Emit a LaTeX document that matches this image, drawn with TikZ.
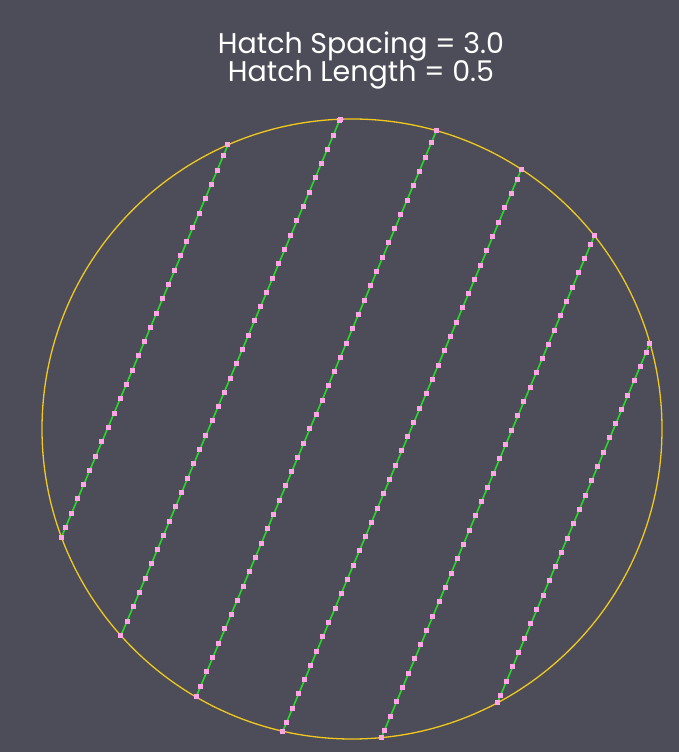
\documentclass[tikz,border=0pt]{standalone}
\usepackage{fontspec}
\setmainfont{Poppins}
\usetikzlibrary{calc}
\definecolor{bgGray}{RGB}{77,77,89}
\definecolor{rimGold}{RGB}{240,200,30}
\definecolor{hatchGreen}{RGB}{40,215,40}
\definecolor{markPink}{RGB}{255,165,230}
\tikzset{
  rim line/.style={draw=rimGold,line width=1.3pt},
  hatch line/.style={draw=hatchGreen,line width=1.6pt},
  hatch mark/.style={rectangle,fill=markPink,minimum size=5pt,inner sep=0pt},
  title text/.style={text=white,font=\fontsize{28.5}{28.5}\selectfont,anchor=base}
}
\newcommand{\hatchgap}{93.2}
\newcommand{\marksep}{15.53}

\begin{document}
\begin{tikzpicture}[x=1pt,y=1pt]
  \fill[bgGray] (0,0) rectangle (679,752);
  \useasboundingbox (0,0) rectangle (679,752);
  \node[title text] (spacing) at (361,698) {Hatch Spacing = 3.0};
  \node[title text] (length) at (361,670) {Hatch Length = 0.5};
  \coordinate (ctr) at (352,323);
  \draw[rim line] (ctr) circle[radius=310pt];
  % one hatch per offset, cut by the circle
  \foreach \k in {-2,...,3}{
    \pgfmathsetmacro{\off}{-38.8+\hatchgap*\k}
    \pgfmathsetmacro{\half}{310*sqrt(1-(\off/310)^2)}
    \coordinate (lo\k) at ($(ctr)+(-23:\off pt)+(67:-\half pt)$);
    \coordinate (hi\k) at ($(ctr)+(-23:\off pt)+(67:\half pt)$);
    \draw[hatch line] (lo\k) -- (hi\k);
    \pgfmathtruncatemacro{\mlo}{ceil((-\half-14.8)/\marksep)}
    \pgfmathtruncatemacro{\mhi}{floor((\half-14.8)/\marksep)}
    \foreach \m in {\mlo,...,\mhi}{
      \pgfmathsetmacro{\tpos}{14.8+\m*\marksep}
      \node[hatch mark] (mark\k-\m) at ($(ctr)+(-23:\off pt)+(67:\tpos pt)$) {};
    }
    \node[hatch mark] (end\k-lo) at (lo\k) {};
    \node[hatch mark] (end\k-hi) at (hi\k) {};
  }
\end{tikzpicture}
\end{document}
